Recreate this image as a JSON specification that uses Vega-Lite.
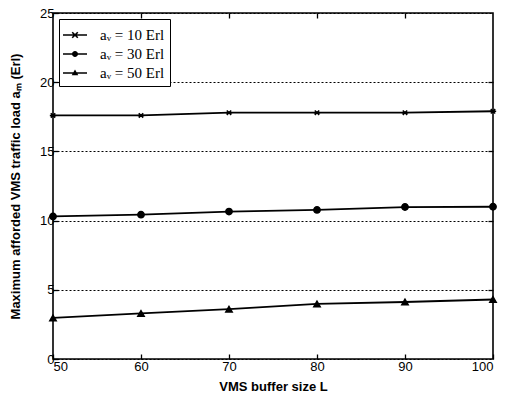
{
  "$schema": "https://vega.github.io/schema/vega-lite/v6.json",
  "width": 440,
  "height": 346,
  "autosize": {"type": "none"},
  "padding": {"left": 53, "top": 13, "right": 16, "bottom": 41},
  "background": "white",
  "config": {
    "view": {"stroke": "black", "strokeWidth": 1.6},
    "axis": {
      "labelFont": "Liberation Sans",
      "labelFontSize": 13,
      "labelColor": "black",
      "titleFont": "Liberation Sans",
      "titleFontSize": 13,
      "titleFontWeight": "bold",
      "titleColor": "black",
      "domain": false,
      "tickColor": "black",
      "tickSize": -5,
      "tickWidth": 1.3
    }
  },
  "data": {
    "values": [
      {"L": 50, "load": 17.6, "series": "aᵥ = 10 Erl"},
      {"L": 60, "load": 17.6, "series": "aᵥ = 10 Erl"},
      {"L": 70, "load": 17.8, "series": "aᵥ = 10 Erl"},
      {"L": 80, "load": 17.8, "series": "aᵥ = 10 Erl"},
      {"L": 90, "load": 17.8, "series": "aᵥ = 10 Erl"},
      {"L": 100, "load": 17.9, "series": "aᵥ = 10 Erl"},
      {"L": 50, "load": 10.3, "series": "aᵥ = 30 Erl"},
      {"L": 60, "load": 10.43, "series": "aᵥ = 30 Erl"},
      {"L": 70, "load": 10.65, "series": "aᵥ = 30 Erl"},
      {"L": 80, "load": 10.77, "series": "aᵥ = 30 Erl"},
      {"L": 90, "load": 10.98, "series": "aᵥ = 30 Erl"},
      {"L": 100, "load": 11.0, "series": "aᵥ = 30 Erl"},
      {"L": 50, "load": 2.97, "series": "aᵥ = 50 Erl"},
      {"L": 60, "load": 3.29, "series": "aᵥ = 50 Erl"},
      {"L": 70, "load": 3.6, "series": "aᵥ = 50 Erl"},
      {"L": 80, "load": 3.98, "series": "aᵥ = 50 Erl"},
      {"L": 90, "load": 4.12, "series": "aᵥ = 50 Erl"},
      {"L": 100, "load": 4.3, "series": "aᵥ = 50 Erl"}
    ]
  },
  "layer": [
    {
      "mark": {"type": "line", "color": "black", "strokeWidth": 1.8},
      "encoding": {
        "x": {
          "field": "L", "type": "quantitative",
          "scale": {"domain": [50, 100], "nice": false, "zero": false},
          "axis": {"title": "VMS buffer size  L", "values": [50, 60, 70, 80, 90, 100], "grid": false, "labelPadding": 6, "titlePadding": 7}
        },
        "y": {
          "field": "load", "type": "quantitative",
          "scale": {"domain": [0, 25], "nice": false},
          "axis": {
            "title": "Maximum afforded VMS traffic load  aₘ  (Erl)",
            "values": [0, 5, 10, 15, 20, 25],
            "grid": true, "gridColor": "black", "gridDash": [2, 2], "gridWidth": 1, "gridOpacity": 1,
            "labelPadding": 4, "titlePadding": 17
          }
        },
        "detail": {"field": "series"}
      }
    },
    {
      "mark": {"type": "point", "filled": true, "color": "black", "opacity": 1, "size": 40, "strokeWidth": 1.5},
      "encoding": {
        "x": {"field": "L", "type": "quantitative", "axis": {"orient": "top", "title": null, "labels": false, "ticks": true, "tickSize": -5, "grid": false, "values": [60, 70, 80, 90]}},
        "y": {"field": "load", "type": "quantitative", "axis": {"orient": "right", "title": null, "labels": false, "ticks": true, "tickSize": -5, "grid": false, "values": [5, 10, 15, 20]}},
        "shape": {
          "field": "series", "type": "nominal", "legend": null,
          "scale": {"range": ["M-0.7,-0.7L0.7,0.7M-0.7,0.7L0.7,-0.7M-1,0H1", "circle", "triangle-up"]}
        },
        "stroke": {"value": "black"}
      }
    },
    {
      "mark": {"type": "point", "filled": true, "fill": "black", "opacity": 1, "size": 0},
      "encoding": {
        "x": {"field": "L", "type": "quantitative", "axis": null},
        "y": {"field": "load", "type": "quantitative", "axis": null},
        "shape": {
          "field": "series", "type": "nominal",
          "scale": {"range": [
            "M-1.2,-0.08V0.08H1.2V-0.08ZM-0.337,-0.223L0.223,0.337L0.337,0.223L-0.223,-0.337ZM-0.223,0.337L0.337,-0.223L0.223,-0.337L-0.337,0.223Z",
            "M-1.2,-0.08H1.2V0.08H-1.2ZM0.3,0A0.3,0.3 0 1,1 -0.3,0A0.3,0.3 0 1,1 0.3,0Z",
            "M-1.2,-0.08H1.2V0.08H-1.2ZM0,-0.36L0.33,0.22L-0.33,0.22Z"
          ]},
          "legend": {
            "title": null,
            "orient": "top-left",
            "offset": 6,
            "padding": 5,
            "strokeColor": "black",
            "fillColor": "white",
            "symbolSize": 400,
            "symbolOpacity": 1,
            "symbolFillColor": "black",
            "rowPadding": 0,
            "labelFont": "Liberation Serif",
            "labelFontSize": 15,
            "labelColor": "black",
            "labelOffset": 14,
            "encode": {
              "symbols": {"update": {"fill": {"value": "black"}, "opacity": {"value": 1}, "fillOpacity": {"value": 1}, "size": {"value": 400}}}
            }
          }
        }
      }
    }
  ],
  "resolve": {"scale": {"shape": "independent"}, "axis": {"x": "independent", "y": "independent"}}
}
